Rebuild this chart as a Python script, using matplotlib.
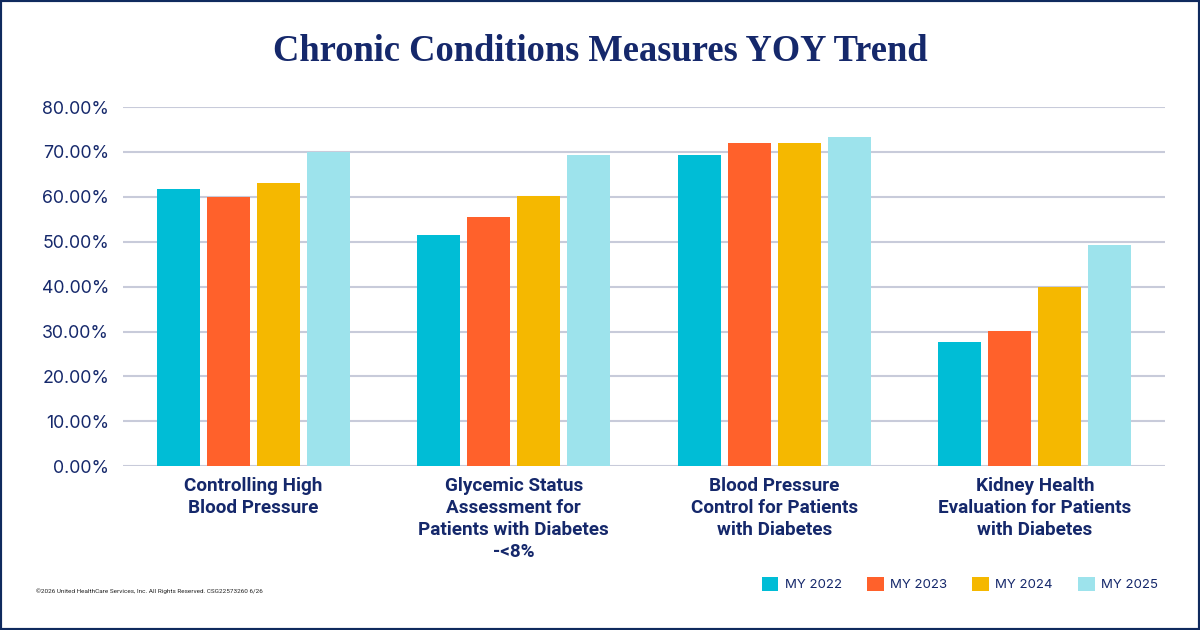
import numpy as np
import matplotlib.pyplot as plt
from matplotlib.patches import Rectangle

# Data (percent)
categories = ['Controlling High\nBlood Pressure',
              'Glycemic Status\nAssessment for\nPatients with Diabetes\n-<8%',
              'Blood Pressure\nControl for Patients\nwith Diabetes',
              'Kidney Health\nEvaluation for Patients\nwith Diabetes']
years = ['MY 2022', 'MY 2023', 'MY 2024', 'MY 2025']
my2022 = [61.8, 51.5, 69.3, 27.7]
my2023 = [60.0, 55.6, 71.9, 30.1]
my2024 = [63.1, 60.1, 71.9, 40.0]
my2025 = [70.1, 69.3, 73.3, 49.3]
yticks = [0, 10, 20, 30, 40, 50, 60, 70, 80]

colors = ['#00bdd6', '#ff612b', '#f5b800', '#9de3ec']
navy = '#15286b'

fig = plt.figure(figsize=(12, 6.3), dpi=100)
ax = fig.add_axes([0.1025, 0.26, 0.8685, 0.57])

x = np.arange(len(categories))
width = 0.165
step = 0.192
series = [my2022, my2023, my2024, my2025]
for i, vals in enumerate(series):
    ax.bar(x + (i - 1.5) * step, vals, width, color=colors[i], label=years[i], zorder=3)

ax.set_xlim(-0.5, 3.5)
ax.set_ylim(0, 80)
ax.set_yticks(yticks)
ax.set_yticklabels(['{:.2f}%'.format(v) for v in yticks], fontsize=12.8,
                   color=navy, family='Inter')
ax.yaxis.grid(True, color='#c8cbda', linewidth=1.5, zorder=0)
ax.tick_params(axis='y', length=0, pad=10)
ax.tick_params(axis='x', length=0, pad=8)
ax.set_xticks(x)
ax.set_xticklabels(categories, fontsize=13.6, color=navy, fontweight='bold',
                   family='Roboto', linespacing=1.29)
for s in ['top', 'right', 'left', 'bottom']:
    ax.spines[s].set_visible(False)

# Title
fig.text(0.5, 0.918, 'Chronic Conditions Measures YOY Trend', ha='center', va='center',
         fontsize=26.3, fontweight='bold', color=navy, family='Liberation Serif')

# Legend
leg = fig.legend(loc='center right', bbox_to_anchor=(0.975, 0.073), ncol=4, frameon=False,
                 handlelength=1.25, handleheight=1.25, handletextpad=0.5, columnspacing=1.9,
                 prop={'family': 'Inter', 'size': 9.5})
for t in leg.get_texts():
    t.set_color(navy)

# Footer
fig.text(0.03, 0.062, '\u00a92026 United HealthCare Services, Inc. All Rights Reserved. CSG22573260 6/26',
         fontsize=4.6, color='#222222', va='center', family='Roboto')

# Frame around the card
fig.patches.append(Rectangle((0, 0), 1, 1, transform=fig.transFigure, fill=False,
                             edgecolor='#0f2a5e', linewidth=3))

fig.savefig('out.png', dpi=100)
